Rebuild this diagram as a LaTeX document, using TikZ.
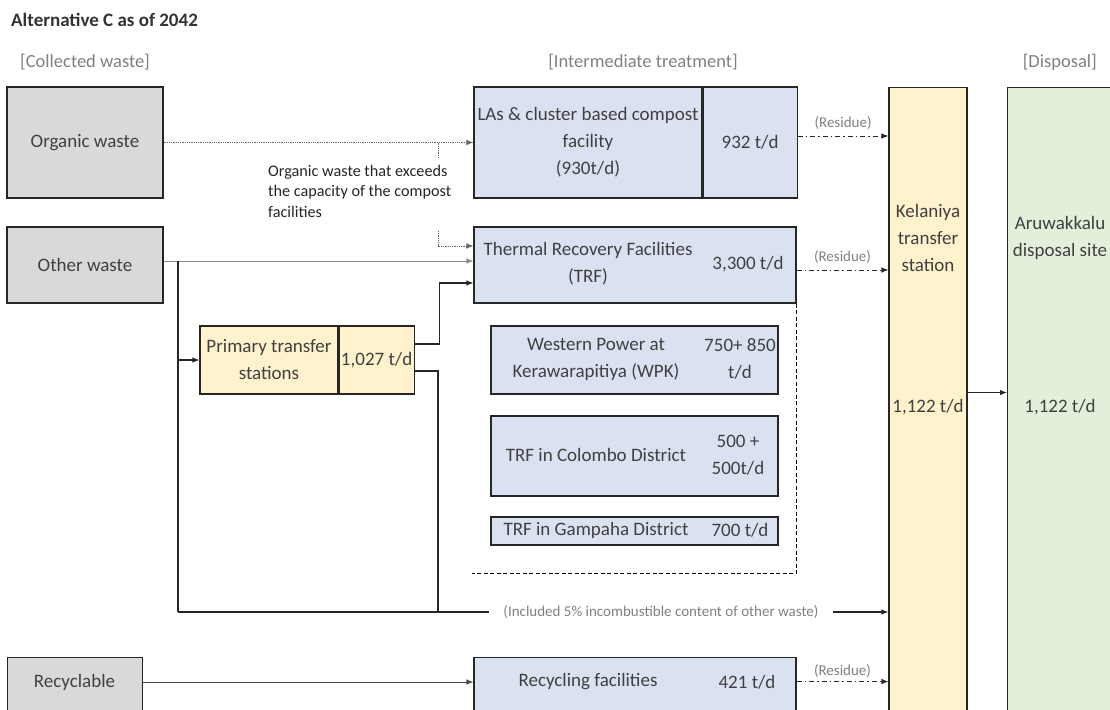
\documentclass[tikz,border=0pt]{standalone}
\usepackage{fontspec}
\setmainfont{Carlito}
\usetikzlibrary{arrows.meta,positioning}
\definecolor{wgray}{HTML}{D9D9D9}
\definecolor{wblue}{HTML}{DAE2F2}
\definecolor{wyellow}{HTML}{FFF2CC}
\definecolor{wgreen}{HTML}{E2EFDA}
\definecolor{wtext}{HTML}{404040}
\definecolor{wlabel}{HTML}{808080}
\begin{document}
\begin{tikzpicture}[
  x=1pt, y=-1pt,
  box/.style={draw=black!85, line width=1.1pt, align=center, inner sep=0pt, text=wtext, font=\fontsize{19}{27}\selectfont},
  wastebox/.style={box, fill=wgray, minimum width=156pt},
  treatbox/.style={box, fill=wblue},
  tsbox/.style={box, fill=wyellow},
  txt/.style={align=center, text=wtext, font=\fontsize{19}{27}\selectfont, inner sep=0pt},
  head/.style={text=wlabel, font=\fontsize{18.5}{22}\selectfont, inner sep=0pt},
  small/.style={text=wlabel, font=\fontsize{15}{17}\selectfont, inner sep=1pt},
  note/.style={align=left, text=black!85, font=\fontsize{16.2}{20.5}\selectfont, inner sep=0pt},
  line/.style={line width=1.1pt, draw=black!85},
  flow/.style={line, -{Latex[length=7pt,width=5.5pt]}},
  thinflow/.style={flow, line width=0.8pt, draw=black!45},
  dotflow/.style={flow, line width=0.9pt, draw=black!60, dash pattern=on 1pt off 0.8pt},
  dotline/.style={line width=0.9pt, draw=black!60, dash pattern=on 1pt off 0.8pt},
  resflow/.style={flow, line width=0.9pt, dash pattern=on 5pt off 3pt on 1.5pt off 3pt},
  dashbox/.style={line width=1pt, dash pattern=on 4pt off 2.5pt}
]
\useasboundingbox (0,0) rectangle (1110,709);

% headings
\node[anchor=west, inner sep=0pt, text=black!80, font=\bfseries\fontsize{19}{22}\selectfont] (title) at (11,20) {Alternative C as of 2042};
\node[head, anchor=west] (hcol) at (20,62) {[Collected waste]};
\node[head] (hint) at (643,62) {[Intermediate treatment]};
\node[head, anchor=east] (hdis) at (1097,62) {[Disposal]};

% collected waste
\node[wastebox, minimum height=111pt] (organic) at (85,142.5) {Organic waste};
\node[wastebox, minimum height=76pt] (other) at (85,265) {Other waste};
\node[wastebox, minimum width=135pt, minimum height=70pt, anchor=north west] (recyc) at (7,657) {};
\node[txt] (recyctxt) at (74.5,682) {Recyclable};

% intermediate treatment
\node[treatbox, minimum width=228pt, minimum height=111pt] (compost) at (588,142.5) {LAs \& cluster based compost\\facility\\(930t/d)};
\node[treatbox, minimum width=94pt, minimum height=111pt, anchor=west] (compostv) at (compost.east) {932 t/d};

\node[treatbox, minimum width=322pt, minimum height=76pt] (trf) at (635,265) {};
\node[txt] (trflbl) at (588,264) {Thermal Recovery Facilities\\(TRF)};
\node[txt] (trfval) at (748,264) {3,300 t/d};

\node[treatbox, minimum width=287pt, minimum height=68pt] (wpk) at (634.5,360) {};
\node[txt] (wpklbl) at (596,359) {Western Power at\\Kerawarapitiya (WPK)};
\node[txt] (wpkval) at (740,359) {750+ 850\\t/d};

\node[treatbox, minimum width=287pt, minimum height=80pt] (cmb) at (634.5,456) {};
\node[txt] (cmblbl) at (596,455) {TRF in Colombo District};
\node[txt] (cmbval) at (738,455) {500 +\\500t/d};

\node[treatbox, minimum width=287pt, minimum height=28pt] (gmp) at (634.5,531) {};
\node[txt] (gmplbl) at (596,530) {TRF in Gampaha District};
\node[txt] (gmpval) at (740,530) {700 t/d};

\coordinate (dashl) at (472,573);
\draw[dashbox] (trf.south east) |- (dashl);

\node[treatbox, minimum width=322pt, minimum height=70pt, anchor=north] (recycling) at (635,657) {};
\node[txt] (recyclbl) at (588,682) {Recycling facilities};
\node[txt] (recycval) at (747,682) {421 t/d};

\node[tsbox, minimum width=138pt, minimum height=68pt] (pts) at (269,360) {Primary transfer\\stations};
\node[tsbox, minimum width=75pt, minimum height=68pt, anchor=west] (ptsv) at (pts.east) {1,027 t/d};

% transfer and disposal
\node[tsbox, minimum width=78pt, minimum height=640pt, anchor=north] (kel) at (928,87) {};
\node[txt] (keltxt) at (928,238) {Kelaniya\\transfer\\station};
\node[txt] (kelval) at (928,407) {1,122 t/d};
\node[box, fill=wgreen, minimum width=120pt, minimum height=640pt, anchor=north west] (aru) at (1007,87) {};
\node[txt] (arutxt) at (1060,237.5) {Aruwakkalu\\disposal site};
\node[txt] (aruval) at (1060,407) {1,122 t/d};

% organic waste flows
\draw[dotflow] (organic.east) -- (compost.west);
\coordinate (ovf1) at (438,142.5);
\coordinate (ovf2) at (438,158);
\coordinate (ovf3) at (438,231);
\draw[dotline] (ovf1) -- (ovf2);
\node[note, anchor=north west] (ovfnote) at (268,165) {Organic waste that exceeds\\the capacity of the compost\\facilities};
\draw[dotflow] (ovf3) |- ([yshift=19pt]trf.west);

% other waste flows
\coordinate (oj) at (178,261);
\coordinate (bl) at (178,612);
\coordinate (bj) at (438,612);
\draw[thinflow] ([yshift=4pt]other.east) -- ([yshift=4pt]trf.west);
\draw[line] (oj) -- (bl);
\draw[flow] (oj |- pts.west) -- (pts.west);
\draw[flow] ([yshift=16pt]ptsv.east) -- ++(25,0) |- ([yshift=-18pt]trf.west);
\draw[line] ([yshift=-11pt]ptsv.east) -| (bj);
\node[small, inner xsep=14pt] (incl) at (661,612) {(Included 5\% incombustible content of other waste)};
\draw[line] (bl) -- (incl.west);
\draw[flow] (incl.east) -- (incl.east -| kel.west);

% recyclable
\draw[thinflow, draw=black!70] (recyctxt -| recyc.east) -- (recyctxt -| recycling.west);

% residue
\draw[resflow] ([yshift=6.5pt]compostv.east) -- ([yshift=6.5pt]compostv.east -| kel.west) node[small, midway, above=5pt] {(Residue)};
\draw[resflow] ([yshift=-5pt]trf.east) -- ([yshift=-5pt]trf.east -| kel.west) node[small, midway, above=5pt] {(Residue)};
\draw[resflow] ([yshift=11pt]recycling.east) -- ([yshift=11pt]recycling.east -| kel.west) node[small, midway, above=3pt] {(Residue)};

\draw[flow] ([yshift=15pt]kel.east) -- ([yshift=15pt]kel.east -| aru.west);
\end{tikzpicture}
\end{document}
